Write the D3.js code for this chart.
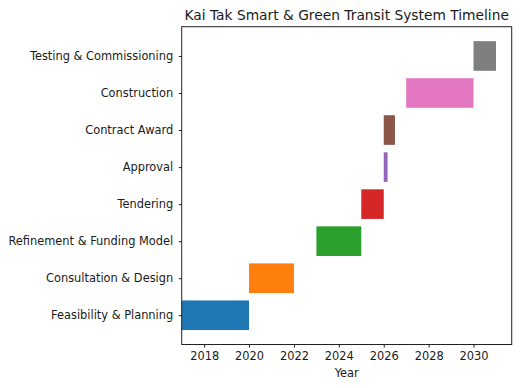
<!DOCTYPE html>
<html><head><meta charset="utf-8">
<script src="https://cdn.jsdelivr.net/npm/d3@7"></script>
<style>body{margin:0;background:#fff}svg{display:block}text{font-family:"DejaVu Sans",sans-serif;fill:#1a1a1a}</style>
</head><body><svg id="c" width="520" height="388"></svg>
<script>
const phases = ["Feasibility & Planning","Consultation & Design","Refinement & Funding Model","Tendering","Approval","Contract Award","Construction","Testing & Commissioning"];
const startYears = [2017, 2020, 2023, 2025, 2026, 2026, 2027, 2030];
const endYears = [2020, 2022, 2025, 2026, 2026.17, 2026.5, 2030, 2031];
const colors = ["#1f77b4","#ff7f0e","#2ca02c","#d62728","#9467bd","#8c564b","#e377c2","#7f7f7f"];
const xTicks = [2018,2020,2022,2024,2026,2028,2030];

const L=181.7, R=511.7, T=26.7, B=344.5;
const svg = d3.select("#c");
const x = d3.scaleLinear().domain([2017, 2031.7]).range([L, R]);
const y = d3.scaleLinear().domain([-0.79, 7.79]).range([B, T]);

svg.selectAll("rect.bar").data(phases).enter().append("rect")
  .attr("class","bar")
  .attr("x",(d,i)=>x(startYears[i]))
  .attr("width",(d,i)=>x(endYears[i])-x(startYears[i]))
  .attr("y",(d,i)=>y(i+0.4))
  .attr("height",(d,i)=>y(i-0.4)-y(i+0.4))
  .attr("fill",(d,i)=>colors[i]);

const xa = svg.append("g").attr("transform",`translate(0,${B})`)
  .call(d3.axisBottom(x).tickValues(xTicks).tickFormat(d3.format("d")).tickSize(3).tickPadding(4));
xa.select(".domain").remove();
xa.selectAll("text").attr("font-size","11.4px").attr("font-family","DejaVu Sans").attr("fill","#1a1a1a");
xa.selectAll("line").attr("stroke","#222");

const ya = svg.append("g").attr("transform",`translate(${L},0)`)
  .call(d3.axisLeft(y).tickValues(d3.range(phases.length)).tickFormat(i=>phases[i]).tickSize(3).tickPadding(5.5));
ya.select(".domain").remove();
ya.selectAll("text").attr("font-size","11.4px").attr("font-family","DejaVu Sans").attr("fill","#1a1a1a");
ya.selectAll("line").attr("stroke","#222");

svg.append("rect").attr("x",L).attr("y",T).attr("width",R-L).attr("height",B-T)
  .attr("fill","none").attr("stroke","#222").attr("stroke-width",1);

svg.append("text").attr("x",(L+R)/2).attr("y",20).attr("text-anchor","middle")
  .attr("font-size","13.8px").text("Kai Tak Smart & Green Transit System Timeline");
svg.append("text").attr("x",(L+R)/2).attr("y",377).attr("text-anchor","middle")
  .attr("font-size","11.4px").text("Year");
</script></body></html>
